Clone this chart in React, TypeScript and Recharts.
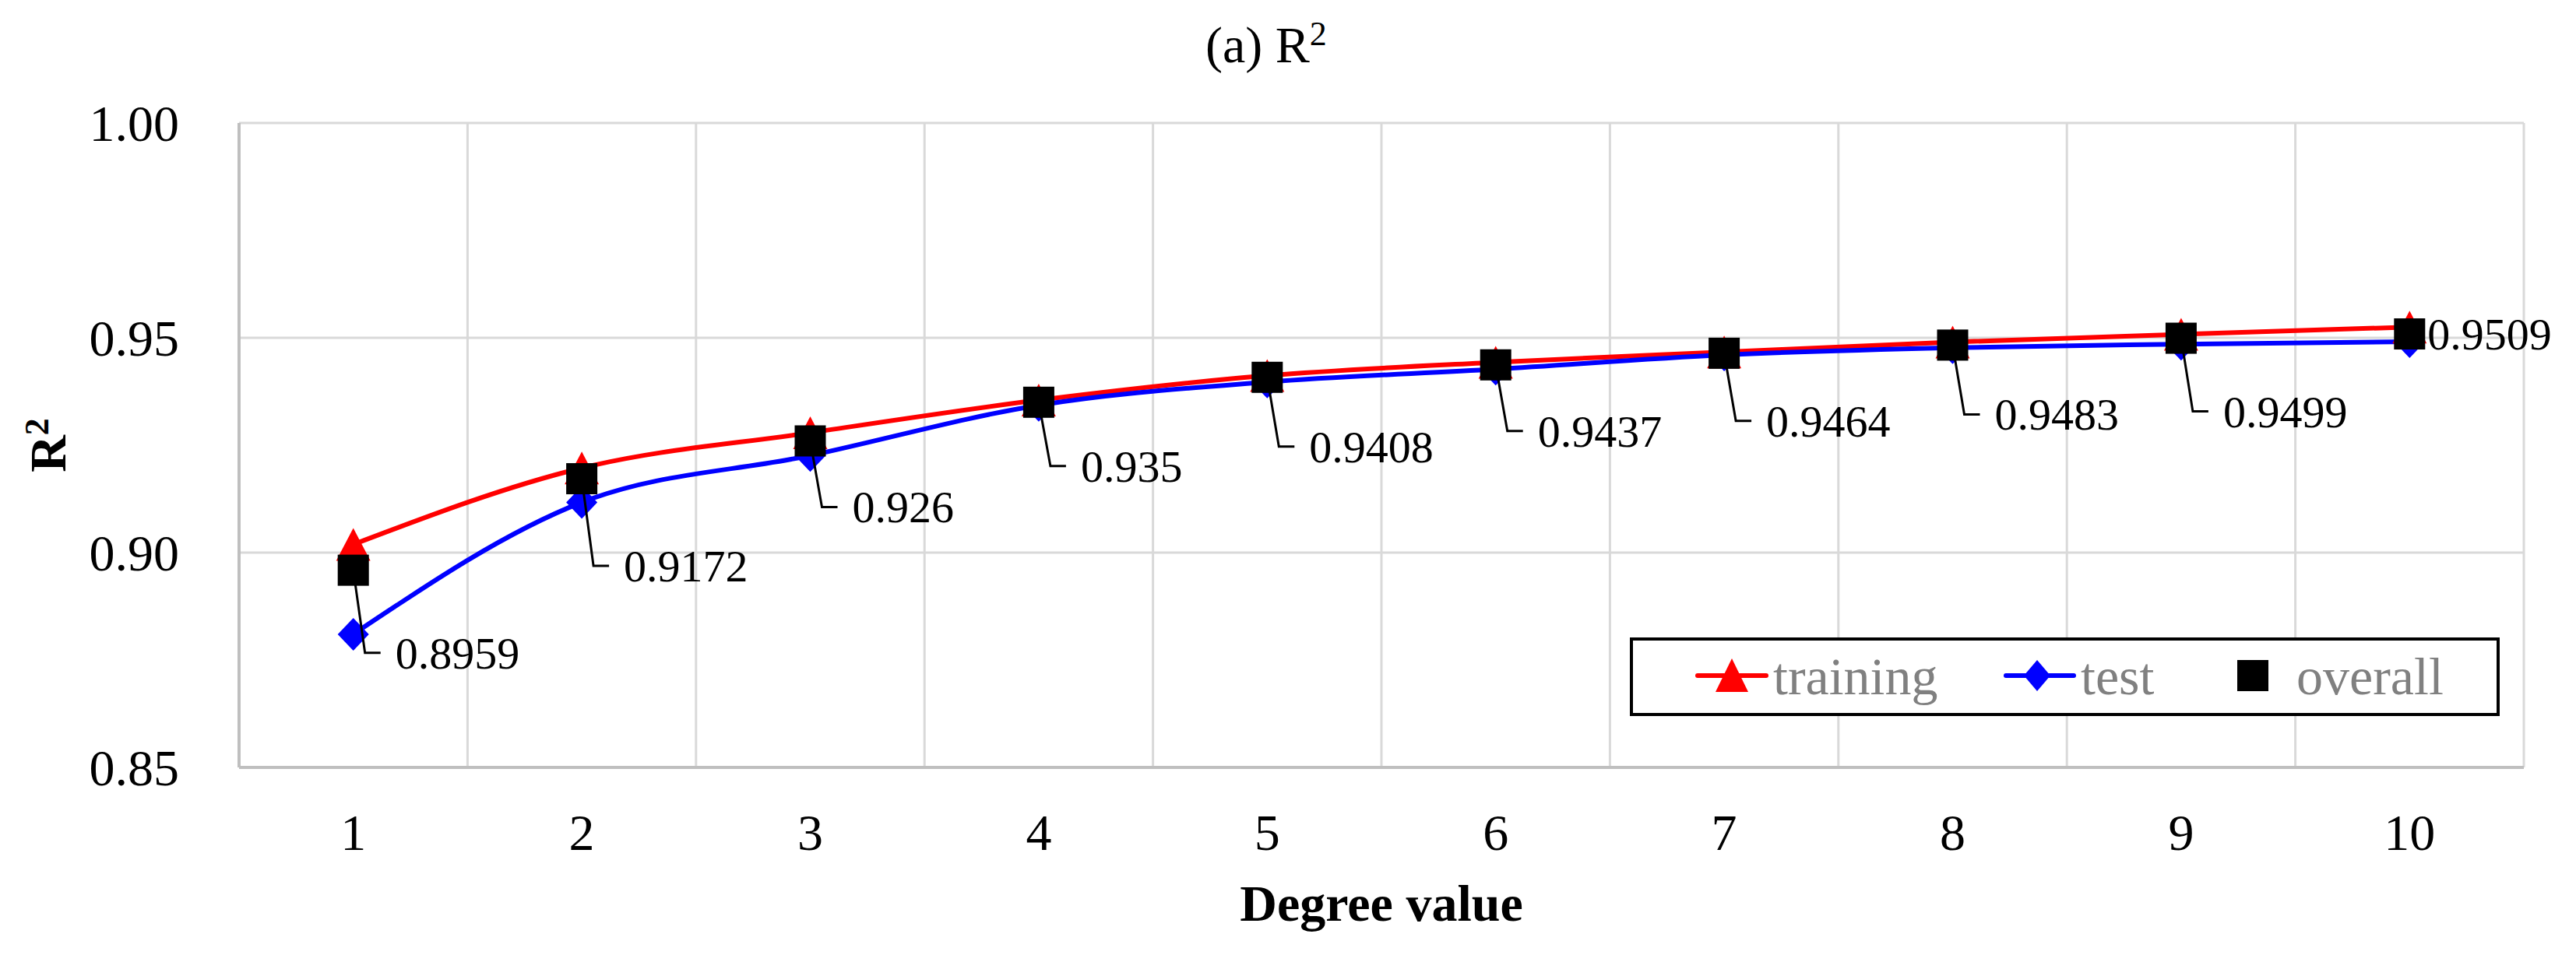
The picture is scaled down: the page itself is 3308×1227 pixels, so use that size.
import React from 'react';
import { ComposedChart, Line, XAxis, YAxis, CartesianGrid, Legend, LabelList, Label } from 'recharts';

// ---- data ----
const degrees = ['1', '2', '3', '4', '5', '6', '7', '8', '9', '10'];
const training = [0.9019, 0.9197, 0.9279, 0.9355, 0.9412, 0.9443, 0.9467, 0.9490, 0.9508, 0.9525];
const test = [0.8810, 0.9117, 0.9226, 0.9343, 0.9397, 0.9427, 0.9460, 0.9477, 0.9485, 0.9491];
const overall = [0.8959, 0.9172, 0.926, 0.935, 0.9408, 0.9437, 0.9464, 0.9483, 0.9499, 0.9509];
const yTicks = [0.85, 0.9, 0.95, 1.0];
const seriesNames = ['training', 'test', 'overall'];
const seriesColors = ['#FF0000', '#0000FF', '#000000'];
const titleText = '(a) R';
const xTitle = 'Degree value';
const yTitle = 'R';

// callout drop (px) of each overall data label; 0 = label placed to the right
const calloutDrop = [106, 112, 85, 82, 89, 85, 87, 89, 94, 0];

const data = degrees.map((d, i) => ({
  degree: d,
  training: training[i],
  test: test[i],
  overall: overall[i],
}));

const FONT = '"Liberation Serif", "Times New Roman", serif';
const W = 3308;
const H = 1227;

const TriangleDot = (props: any) => {
  const { cx, cy, index } = props;
  if (cx == null || cy == null) return <g key={`tr${index}`} />;
  const w = 44, h = 42;
  return (
    <polygon
      key={`tr${index}`}
      points={`${cx},${cy - h / 2} ${cx + w / 2},${cy + h / 2} ${cx - w / 2},${cy + h / 2}`}
      fill={seriesColors[0]}
    />
  );
};

const DiamondDot = (props: any) => {
  const { cx, cy, index } = props;
  if (cx == null || cy == null) return <g key={`dm${index}`} />;
  const w = 40, h = 42;
  return (
    <polygon
      key={`dm${index}`}
      points={`${cx},${cy - h / 2} ${cx + w / 2},${cy} ${cx},${cy + h / 2} ${cx - w / 2},${cy}`}
      fill={seriesColors[1]}
    />
  );
};

const SquareDot = (props: any) => {
  const { cx, cy, index } = props;
  if (cx == null || cy == null) return <g key={`sq${index}`} />;
  const s = 40;
  return <rect key={`sq${index}`} x={cx - s / 2} y={cy - s / 2} width={s} height={s} fill={seriesColors[2]} />;
};

const renderCallout = (props: any) => {
  const x = props.x ?? props.viewBox?.x;
  const y = props.y ?? props.viewBox?.y;
  const { value, index } = props;
  if (x == null || y == null) return null;
  const drop = calloutDrop[index] || 0;
  const txt = String(value);
  if (!drop) {
    return (
      <text key={`cl${index}`} x={x + 23} y={y + 20} fontFamily={FONT} fontSize={58} fill="#000">
        {txt}
      </text>
    );
  }
  const ly = y + drop;
  return (
    <g key={`cl${index}`}>
      <polyline
        points={`${x},${y} ${x + 15},${ly} ${x + 35},${ly}`}
        fill="none"
        stroke="#000"
        strokeWidth={3}
      />
      <text x={x + 54} y={ly + 20} fontFamily={FONT} fontSize={58} fill="#000">
        {txt}
      </text>
    </g>
  );
};

const legendLayout = [
  { line: [87, 175], mark: 131, text: 184 },
  { line: [483, 570], mark: 523, text: 579 },
  { line: null, mark: 800, text: 856 },
];

const LegendContent = () => {
  const bw = 1117, bh = 101, my = 49;
  return (
    <svg width={bw} height={bh} style={{ display: 'block' }}>
      <rect x={2} y={2} width={bw - 4} height={bh - 4} fill="#fff" stroke="#000" strokeWidth={4} />
      {seriesNames.map((name, i) => {
        const L = legendLayout[i];
        const c = seriesColors[i];
        let marker: any = null;
        if (i === 0) {
          marker = (
            <polygon points={`${L.mark},${my - 22} ${L.mark + 21},${my + 21} ${L.mark - 21},${my + 21}`} fill={c} />
          );
        } else if (i === 1) {
          marker = (
            <polygon points={`${L.mark},${my - 20} ${L.mark + 17},${my} ${L.mark},${my + 20} ${L.mark - 17},${my}`} fill={c} />
          );
        } else {
          marker = <rect x={L.mark - 20} y={my - 20} width={40} height={40} fill={c} />;
        }
        return (
          <g key={name}>
            {L.line && (
              <line x1={L.line[0]} y1={my} x2={L.line[1]} y2={my} stroke={c} strokeWidth={6} strokeLinecap="round" />
            )}
            {marker}
            <text x={L.text} y={my + 24} fontFamily={FONT} fontSize={68} fill="#808080">
              {name}
            </text>
          </g>
        );
      })}
    </svg>
  );
};

const gridX = (args: any) => {
  const off = args?.offset || {};
  const left = off.left ?? 307;
  const width = off.width ?? 2934;
  const n = degrees.length;
  const pts: number[] = [];
  for (let i = 0; i <= n; i++) pts.push(left + (i * width) / n);
  return pts;
};

export default function App() {
  return (
    <div style={{ position: 'absolute', left: 0, top: 0, width: W, height: H, background: '#fff' }}>
      <ComposedChart
        width={W}
        height={H}
        data={data}
        margin={{ top: 158, right: 67, bottom: 0, left: 0 }}
      >
        <CartesianGrid
          stroke="#D9D9D9"
          strokeWidth={3}
          verticalCoordinatesGenerator={gridX}
        />
        <XAxis
          dataKey="degree"
          scale="band"
          height={241}
          axisLine={{ stroke: '#BFBFBF', strokeWidth: 4 }}
          tickLine={false}
          tickSize={0}
          tickMargin={59}
          tick={{ fontSize: 66, fill: '#000', fontFamily: FONT }}
          interval={0}
        >
          <Label
            content={(p: any) => {
              const vb = p.viewBox || {};
              const cx = (vb.x ?? 307) + (vb.width ?? 2934) / 2;
              const by = (vb.y ?? 986) + 197;
              return (
                <text x={cx} y={by} textAnchor="middle" fontFamily={FONT} fontWeight="bold" fontSize={66} fill="#000">
                  {xTitle}
                </text>
              );
            }}
          />
        </XAxis>
        <YAxis
          width={307}
          domain={[0.85, 1.0]}
          ticks={yTicks}
          allowDataOverflow
          axisLine={{ stroke: '#BFBFBF', strokeWidth: 4 }}
          tickLine={false}
          tickSize={0}
          tickMargin={77}
          tickFormatter={(v: number) => v.toFixed(2)}
          tick={{ fontSize: 66, fill: '#000', fontFamily: FONT }}
        >
          <Label
            content={(p: any) => {
              const vb = p.viewBox || {};
              const cy = (vb.y ?? 158) + (vb.height ?? 828) / 2;
              const bx = 84;
              return (
                <text
                  x={bx}
                  y={cy}
                  transform={`rotate(-90, ${bx}, ${cy})`}
                  textAnchor="middle"
                  fontFamily={FONT}
                  fontWeight="bold"
                  fontSize={66}
                  fill="#000"
                >
                  {yTitle}
                  <tspan fontSize={44} dy={-22}>2</tspan>
                </text>
              );
            }}
          />
        </YAxis>
        <Legend
          layout="vertical"
          align="center"
          verticalAlign="middle"
          content={() => <LegendContent />}
          wrapperStyle={{ left: 2093, top: 819, width: 1117, height: 101 }}
        />
        <Line
          type="monotone"
          dataKey="training"
          name={seriesNames[0]}
          stroke={seriesColors[0]}
          strokeWidth={6}
          dot={TriangleDot}
          activeDot={false}
          isAnimationActive={false}
        />
        <Line
          type="monotone"
          dataKey="test"
          name={seriesNames[1]}
          stroke={seriesColors[1]}
          strokeWidth={6}
          dot={DiamondDot}
          activeDot={false}
          isAnimationActive={false}
        />
        <Line
          type="monotone"
          dataKey="overall"
          name={seriesNames[2]}
          stroke="none"
          strokeWidth={0}
          dot={SquareDot}
          activeDot={false}
          isAnimationActive={false}
        >
          <LabelList dataKey="overall" content={renderCallout} />
        </Line>
      </ComposedChart>
      <svg
        width={W}
        height={150}
        style={{ position: 'absolute', left: 0, top: 0, pointerEvents: 'none' }}
      >
        <text x={1548} y={80} fontFamily={FONT} fontSize={66} fill="#000">
          {titleText}
          <tspan fontSize={44} dy={-22}>2</tspan>
        </text>
      </svg>
    </div>
  );
}
